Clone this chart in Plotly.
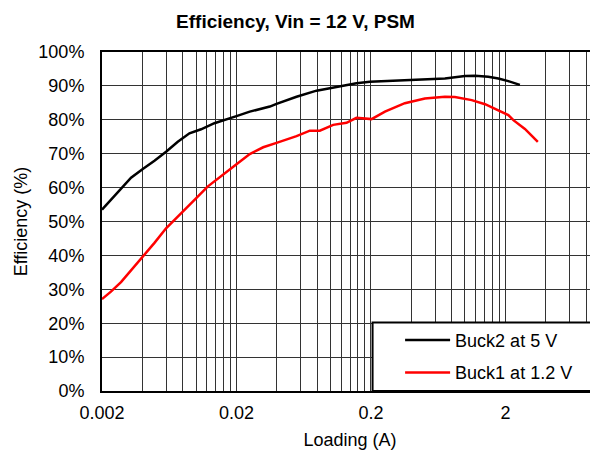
import plotly.graph_objects as go

# ---- data ----
buck2_x = [0.002, 0.00277, 0.00329, 0.00402, 0.00491, 0.00599, 0.00732, 0.00894, 0.0109, 0.0137,
           0.0163, 0.02, 0.0251, 0.0354, 0.0397, 0.0559, 0.0787, 0.111, 0.156, 0.196,
           0.254, 0.357, 0.597, 0.709, 1.0, 1.19, 1.49, 1.77, 2.10, 2.56]
buck2_eff = [53.5, 59.5, 62.9, 65.5, 67.9, 70.6, 73.5, 76.0, 77.2, 79.0,
             79.9, 81.1, 82.4, 83.9, 84.7, 86.8, 88.6, 89.8, 90.8, 91.2,
             91.4, 91.7, 91.9, 92.2, 92.9, 93.0, 92.7, 92.2, 91.4, 90.3]

buck1_x = [0.002, 0.00233, 0.00277, 0.00329, 0.00402, 0.00491, 0.00599, 0.00692, 0.0082, 0.0100,
           0.0122, 0.0154, 0.02, 0.0251, 0.0316, 0.0397, 0.0559, 0.0702, 0.0833, 0.1047,
           0.1316, 0.156, 0.1855, 0.2019, 0.254, 0.357, 0.503, 0.709, 0.841, 1.122,
           1.41, 1.77, 2.10, 2.29, 2.79, 3.48]
buck1_eff = [27.1, 29.3, 32.1, 35.5, 39.6, 43.7, 48.0, 50.4, 53.4, 56.8,
             60.3, 63.5, 66.9, 69.9, 71.9, 73.2, 75.2, 76.8, 76.8, 78.5,
             79.1, 80.6, 80.2, 80.2, 82.4, 84.9, 86.3, 86.8, 86.7, 85.8,
             84.6, 82.9, 81.4, 79.9, 77.3, 73.5]

series_names = ["Buck2 at 5 V", "Buck1 at 1.2 V"]
x_tick_vals = [0.002, 0.02, 0.2, 2]
x_tick_text = ["0.002", "0.02", "0.2", "2"]
x_grid_bases = [0.002, 0.02, 0.2, 2]
y_tick_vals = list(range(0, 101, 10))
y_tick_text = [f"{v}%" for v in y_tick_vals]

x_grid = sorted(set(round(b * k, 6) for b in x_grid_bases for k in range(1, 11)))

FONT = "Liberation Sans, Arial, sans-serif"
GRID = "#333333"

fig = go.Figure()
fig.add_trace(go.Scatter(x=buck2_x, y=buck2_eff, mode="lines", name=series_names[0],
                         line=dict(color="black", width=2.5), legendgroup="a"))
fig.add_trace(go.Scatter(x=buck1_x, y=buck1_eff, mode="lines", name=series_names[1],
                         line=dict(color="#ff0000", width=2.5), legendgroup="b"))

# legend box (extends off the right edge like the reference)
fig.add_shape(type="rect", xref="paper", yref="paper", x0=0.5455, x1=1.05, y0=0, y1=0.2017,
              fillcolor="white", line=dict(color="black", width=2), layer="above")

# page body has an 8px default margin, so the figure is 8px smaller than the window
fig.update_layout(
    width=590, height=445,
    margin=dict(l=94, r=0, t=44, b=62, autoexpand=False),
    paper_bgcolor="white", plot_bgcolor="white",
    font=dict(family=FONT, size=18, color="black"),
    title=dict(text="<b>Efficiency, Vin = 12 V, PSM</b>", xref="container", x=0.4873,
               xanchor="center", yref="container", y=1 - 13 / 445, yanchor="middle",
               font=dict(size=19, family=FONT)),
    showlegend=True,
    legend=dict(x=0.601, y=0.204, xanchor="left", yanchor="top",
                bgcolor="rgba(0,0,0,0)", borderwidth=0, font=dict(size=18),
                tracegroupgap=6, itemwidth=45, traceorder="grouped"),
    xaxis=dict(type="log", range=[-2.69897, 0.989], automargin=False,
               tickmode="array", tickvals=x_tick_vals, ticktext=x_tick_text,
               showgrid=True, gridcolor=GRID, gridwidth=1,
               minor=dict(tickmode="array", tickvals=x_grid, showgrid=True,
                          gridcolor=GRID, gridwidth=1),
               showline=True, linecolor="black", linewidth=2, mirror=True,
               ticks="", ticklabelstandoff=4, zeroline=False,
               title=dict(text="Loading (A)", standoff=12, font=dict(size=18))),
    yaxis=dict(range=[0, 100], automargin=False,
               tickmode="array", tickvals=y_tick_vals, ticktext=y_tick_text,
               showgrid=True, gridcolor=GRID, gridwidth=1,
               showline=True, linecolor="black", linewidth=2, mirror=False,
               ticks="", ticklabelstandoff=12, zeroline=False,
               title=dict(text="Efficiency (%)", standoff=6, font=dict(size=18))),
)

fig.write_html("out.html")
